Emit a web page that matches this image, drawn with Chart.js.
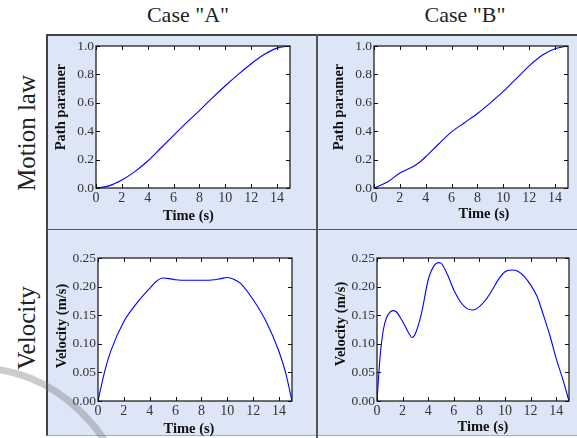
<!DOCTYPE html>
<html>
<head>
<meta charset="utf-8">
<script src="https://cdn.jsdelivr.net/npm/chart.js@4/dist/chart.umd.min.js"></script>
<style>
  body { margin: 0; background: #fff; font-family: "Liberation Serif", serif; }
  #page { position: relative; width: 577px; height: 438px; overflow: hidden; }
  #panel { position: absolute; left: 46px; top: 34px; width: 540px; height: 402px;
           background: #dde6f6; border-left: 2px solid #444; border-top: 2px solid #444;
           border-bottom: 1px solid #aab; box-sizing: border-box; }
  .vline { position: absolute; left: 316px; top: 34px; width: 2px; height: 404px; background: #555; }
  .hline { position: absolute; left: 46px; top: 229px; width: 531px; height: 1px; background: #555; }
  .head { position: absolute; top: 2px; font-size: 22px; color: #222; transform: translateX(-50%); white-space: nowrap; }
  .row { position: absolute; left: 27px; font-size: 25px; color: #222; white-space: nowrap;
         transform: translate(-50%, -50%) rotate(-90deg); }
  .cell { position: absolute; }
  #mark { position: absolute; left: 0; top: 0; pointer-events: none; }
</style>
</head>
<body>
<div id="page">
  <div id="panel"></div>
  <div class="vline"></div>
  <div class="hline"></div>
  <div class="head" style="left:188px">Case "A"</div>
  <div class="head" style="left:465px">Case "B"</div>
  <div class="row" style="top:133px">Motion law</div>
  <div class="row" style="top:328px">Velocity</div>
  <div class="cell" style="left:46px;top:34px;width:271px;height:196px"><canvas id="tl"></canvas></div>
  <div class="cell" style="left:317px;top:34px;width:260px;height:196px"><canvas id="tr"></canvas></div>
  <div class="cell" style="left:46px;top:230px;width:271px;height:208px"><canvas id="bl"></canvas></div>
  <div class="cell" style="left:317px;top:230px;width:260px;height:208px"><canvas id="br"></canvas></div>
  <svg id="mark" width="577" height="438">
    <path d="M -5 369 Q 62 378 106 442" fill="none" stroke="rgba(110,110,110,0.35)" stroke-width="7" stroke-linecap="round"/>
  </svg>
</div>
<script>
// time samples (s) and values
const timeMotionA = [0, 1, 2, 3, 4, 5, 6, 7, 8, 9, 10, 11, 12, 13, 14, 15];
const motionA = [0, 0.015, 0.056, 0.115, 0.19, 0.28, 0.37, 0.46, 0.545, 0.635, 0.72, 0.80, 0.875, 0.94, 0.985, 1.0];

const timeMotionB = [0, 1, 2, 3, 3.5, 4, 5, 6, 7, 8, 9, 10, 11, 12, 13, 14, 15];
const motionB = [0, 0.04, 0.105, 0.15, 0.18, 0.22, 0.31, 0.395, 0.46, 0.525, 0.6, 0.68, 0.77, 0.86, 0.935, 0.98, 1.0];

const timeVelA = [0, 0.5, 1, 2, 3, 4, 4.5, 5, 5.5, 6, 7, 8, 9, 9.5, 10, 10.5, 11, 12, 13, 14, 14.5, 15];
const velA = [0, 0.05, 0.088, 0.139, 0.171, 0.197, 0.209, 0.215, 0.214, 0.212, 0.211, 0.211, 0.212, 0.214, 0.216, 0.213, 0.206, 0.177, 0.139, 0.086, 0.05, 0];

const timeVelB = [0, 0.25, 0.5, 0.75, 1, 1.25, 1.5, 2, 2.5, 2.75, 3, 3.5, 4, 4.5, 4.8, 5, 5.5, 6, 6.5, 7, 7.5, 8, 8.5, 9, 9.5, 10, 10.5, 11, 11.5, 12, 12.5, 13, 13.5, 14, 14.5, 15];
const velB = [0, 0.08, 0.125, 0.146, 0.155, 0.158, 0.156, 0.139, 0.118, 0.111, 0.118, 0.156, 0.212, 0.238, 0.242, 0.241, 0.221, 0.194, 0.174, 0.162, 0.159, 0.165, 0.177, 0.194, 0.213, 0.226, 0.229, 0.227, 0.218, 0.203, 0.183, 0.150, 0.115, 0.074, 0.039, 0];

const timeTicks = [0, 2, 4, 6, 8, 10, 12, 14];
const motionTicks = [0, 0.2, 0.4, 0.6, 0.8, 1.0];
const velTicks = [0, 0.05, 0.10, 0.15, 0.20, 0.25];

// white plot area, black box and inward ticks on all four sides
const framePlugin = {
    id: 'frame',
    beforeDraw(chart) {
        const { ctx, chartArea: a } = chart;
        ctx.save();
        ctx.fillStyle = '#fff';
        ctx.fillRect(a.left, a.top, a.right - a.left, a.bottom - a.top);
        ctx.restore();
    },
    afterDraw(chart) {
        const { ctx, chartArea: a, scales } = chart;
        const len = 4;
        ctx.save();
        ctx.strokeStyle = '#111';
        ctx.lineWidth = 1;
        ctx.beginPath();
        scales.x.ticks.forEach(t => {
            const px = Math.round(scales.x.getPixelForValue(t.value)) + 0.5;
            ctx.moveTo(px, a.bottom); ctx.lineTo(px, a.bottom - len);
            ctx.moveTo(px, a.top); ctx.lineTo(px, a.top + len);
        });
        scales.y.ticks.forEach(t => {
            const py = Math.round(scales.y.getPixelForValue(t.value)) + 0.5;
            ctx.moveTo(a.left, py); ctx.lineTo(a.left + len, py);
            ctx.moveTo(a.right, py); ctx.lineTo(a.right - len, py);
        });
        ctx.stroke();
        ctx.lineWidth = 1.2;
        ctx.strokeRect(a.left, a.top, a.right - a.left, a.bottom - a.top);

        // axis titles sit slightly off-centre in the original figure
        const t = chart.options.plugins.frame;
        ctx.fillStyle = '#111';
        ctx.font = 'bold 14.5px "Liberation Serif"';
        ctx.textAlign = 'center';
        ctx.textBaseline = 'middle';
        ctx.fillText(t.xTitle, t.xTitlePos[0], t.xTitlePos[1]);
        ctx.translate(t.yTitlePos[0], t.yTitlePos[1]);
        ctx.rotate(-Math.PI / 2);
        ctx.fillText(t.yTitle, 0, 0);
        ctx.restore();
    }
};

function makeChart(id, times, values, cfg) {
    const points = times.map((t, i) => ({ x: t, y: values[i] }));
    return new Chart(document.getElementById(id), {
        type: 'line',
        data: {
            datasets: [{
                data: points,
                borderColor: '#0000ff',
                borderWidth: 1.1,
                pointRadius: 0,
                cubicInterpolationMode: 'monotone',
                fill: false
            }]
        },
        options: {
            responsive: true,
            maintainAspectRatio: false,
            animation: false,
            events: [],
            layout: { padding: cfg.padding },
            plugins: {
                legend: { display: false },
                tooltip: { enabled: false },
                frame: {
                    xTitle: 'Time (s)', xTitlePos: cfg.xTitlePos,
                    yTitle: cfg.yTitle, yTitlePos: cfg.yTitlePos
                }
            },
            scales: {
                x: {
                    type: 'linear',
                    min: 0,
                    max: 15,
                    afterFit: s => { s.height = cfg.xHeight; },
                    afterBuildTicks: s => { s.ticks = timeTicks.map(v => ({ value: v })); },
                    grid: { display: false, drawTicks: false },
                    border: { display: false },
                    ticks: {
                        color: '#333',
                        padding: 2,
                        maxRotation: 0,
                        font: { family: 'Liberation Serif', size: 14 },
                        callback: v => String(v)
                    }
                },
                y: {
                    type: 'linear',
                    min: cfg.yMin,
                    max: cfg.yMax,
                    afterFit: s => { s.width = cfg.yWidth; },
                    afterBuildTicks: s => { s.ticks = cfg.yTicks.map(v => ({ value: v })); },
                    grid: { display: false, drawTicks: false },
                    border: { display: false },
                    ticks: {
                        color: '#333',
                        padding: 2,
                        font: { family: 'Liberation Serif', size: 13.5 },
                        callback: v => v.toFixed(cfg.digits)
                    }
                }
            }
        },
        plugins: [framePlugin]
    });
}

makeChart('tl', timeMotionA, motionA, {
    padding: { left: 0, top: 12, right: 27, bottom: 4 },
    xHeight: 38, yWidth: 50, xTitlePos: [142.5, 182.5], yTitlePos: [15, 73],
    yMin: 0, yMax: 1, yTicks: motionTicks, digits: 1, yTitle: 'Path paramer'
});
makeChart('tr', timeMotionB, motionB, {
    padding: { left: 0, top: 12, right: 9, bottom: 4 },
    xHeight: 38, yWidth: 57, xTitlePos: [167, 180.5], yTitlePos: [22, 73],
    yMin: 0, yMax: 1, yTicks: motionTicks, digits: 1, yTitle: 'Path paramer'
});
makeChart('bl', timeVelA, velA, {
    padding: { left: 0, top: 28, right: 25, bottom: 2 },
    xHeight: 35, yWidth: 52, xTitlePos: [143, 199], yTitlePos: [16, 96],
    yMin: 0, yMax: 0.25, yTicks: velTicks, digits: 2, yTitle: 'Velocity (m/s)'
});
makeChart('br', timeVelB, velB, {
    padding: { left: 0, top: 28, right: 8, bottom: 2 },
    xHeight: 35, yWidth: 60, xTitlePos: [166, 197.5], yTitlePos: [24, 94],
    yMin: 0, yMax: 0.25, yTicks: velTicks, digits: 2, yTitle: 'Velocity (m/s)'
});
</script>
</body>
</html>
